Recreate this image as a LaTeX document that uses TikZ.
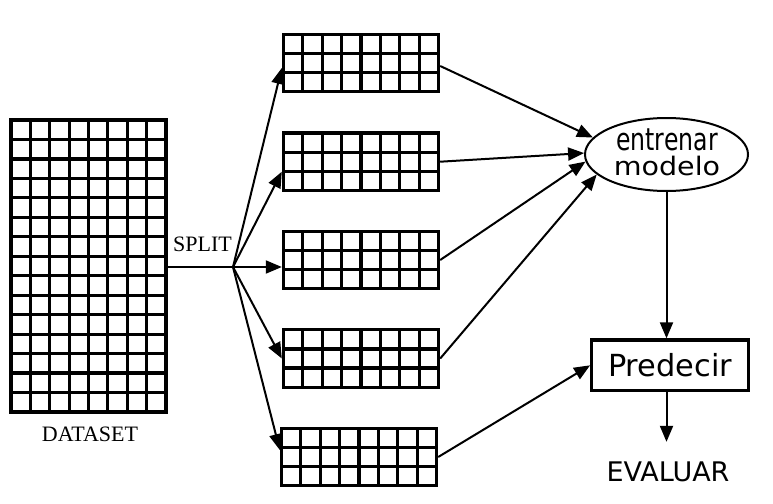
\documentclass[tikz,border=0pt]{standalone}
\usepackage{fontspec}
\setmainfont{Liberation Serif}
\newfontfamily\dvfont{DejaVu Sans}
\newfontfamily\dvcond[FakeStretch=0.76]{DejaVu Sans}
\newfontfamily\dvwide[FakeStretch=1.12]{DejaVu Sans}
\usetikzlibrary{arrows.meta,calc,shapes.geometric}
\tikzset{
  gridbox/.style n args={4}{draw, line width=3.4pt, inner sep=0pt,
    minimum width=#1, minimum height=#2,
    path picture={
      \foreach \i in {1,...,#3}{
        \draw[line width=3.2pt]
          ($(path picture bounding box.north west)!\i/#3!(path picture bounding box.north east)$) --
          ($(path picture bounding box.south west)!\i/#3!(path picture bounding box.south east)$);}
      \foreach \j in {1,...,#4}{
        \draw[line width=3.2pt]
          ($(path picture bounding box.north west)!\j/#4!(path picture bounding box.south west)$) --
          ($(path picture bounding box.north east)!\j/#4!(path picture bounding box.south east)$);}
    }},
  smallgrid/.style={gridbox={155pt}{57.5pt}{8}{3}},
  arr/.style={line width=2pt, -{Triangle[length=16pt,width=13pt]}},
  serif/.style={font=\fontsize{22}{24}\selectfont, inner sep=0pt, anchor=base},
}
\begin{document}
\begin{tikzpicture}[x=1pt,y=-1pt]
\useasboundingbox (0,0) rectangle (773,503);
% dataset
\node[gridbox={155pt}{292pt}{8}{15}] (ds) at (88.5,266) {};
\node[serif] (dslab) at (90,441.7) {DATASET};
\node[serif] (splab) at (202.5,251.7) {SPLIT};
\coordinate (sp) at (233,267);
% small grids
\node[smallgrid] (g1) at (361,63) {};
\node[smallgrid] (g2) at (361,161.7) {};
\node[smallgrid] (g3) at (361,260) {};
\node[smallgrid] (g4) at (361,358.5) {};
\node[smallgrid] (g5) at (359,457) {};
% model
\node[ellipse, draw, line width=2pt, minimum width=163pt, minimum height=73pt, inner sep=0pt] (em) at (666.5,154.5) {};
\node[font=\dvcond\fontsize{31}{32}\selectfont, inner sep=0pt, anchor=base] (t1) at (667,150) {entrenar};
\node[font=\dvwide\fontsize{25.5}{28}\selectfont, inner sep=0pt, anchor=base] (t2) at (667,175) {modelo};
\node[draw, line width=3.2pt, minimum width=156.6pt, minimum height=50.7pt, inner sep=0pt,
      font=\dvfont\fontsize{30.4}{32}\selectfont] (pr) at (670,365.3) {Predecir};
\node[font=\dvfont\fontsize{27}{30}\selectfont, inner sep=0pt, anchor=base] (ev) at (668,481.7) {EVALUAR};
% connectors
\draw[line width=2.4pt] (ds.east |- sp) -- (sp);
\draw[arr] (sp) -- ([yshift=-5pt]g1.west);
\draw[arr] (sp) -- ([yshift=-10pt]g2.west);
\draw[arr] (sp) -- ([yshift=-7pt]g3.west);
\draw[arr] (sp) -- (g4.west);
\draw[arr] (sp) -- ([yshift=7pt]g5.west);
\draw[arr] ([yshift=-3pt]g1.east) -- (em.167);
\draw[arr] (g2.east) -- (em.179);
\draw[arr] (g3.east) -- (em.185);
\draw[arr] (g4.east) -- (em.196);
\draw[arr] (g5.east) -- (pr.west);
\draw[arr] (em.south) -- (em.south |- pr.north);
\draw[arr] (em.south |- pr.south) -- ([yshift=20pt]em.south |- ev.north);
\end{tikzpicture}
\end{document}
